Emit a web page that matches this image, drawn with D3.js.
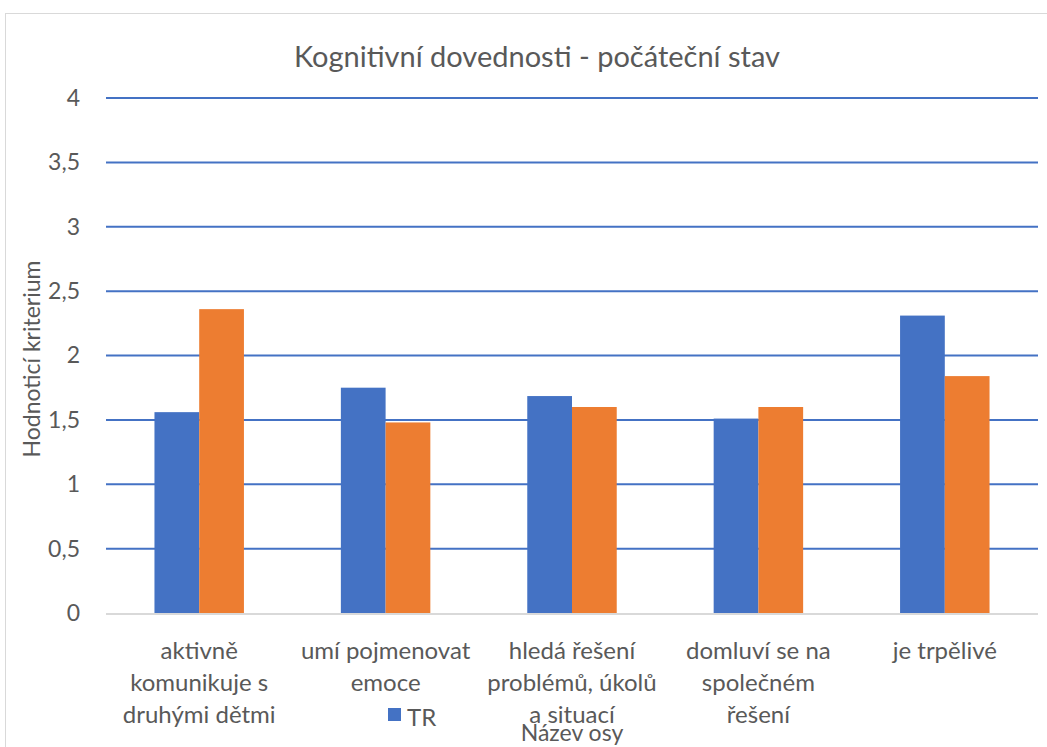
<!DOCTYPE html>
<html>
<head>
<meta charset="utf-8">
<script src="https://cdn.jsdelivr.net/npm/d3@7"></script>
<style>
  body { margin: 0; background: #fff; overflow: hidden; }
  svg { font-family: Lato, "Open Sans", sans-serif; display: block; }
</style>
</head>
<body>
<div id="chart"></div>
<script>
var categories = [
    ["aktivně", "komunikuje s", "druhými dětmi"],
    ["umí pojmenovat", "emoce"],
    ["hledá řešení", "problémů, úkolů", "a situací"],
    ["domluví se na", "společném", "řešení"],
    ["je trpělivé"]
];
var seriesNames = ["TR", "ER"];
var tr = [1.56, 1.75, 1.685, 1.51, 2.31];
var er = [2.36, 1.48, 1.60, 1.60, 1.84];
var yTicks = [0, 0.5, 1, 1.5, 2, 2.5, 3, 3.5, 4];
var colors = ["#4472C4", "#ED7D31"];

var w = 1047, h = 747;
var padLeft = 106, padRight = 1038, padTop = 98, padBottom = 613;

var svg = d3.select("#chart").append("svg")
    .attr("width", w)
    .attr("height", h);

// chart frame
svg.append("rect")
    .attr("x", 5.5).attr("y", 13.5)
    .attr("width", w + 10).attr("height", h + 10)
    .attr("fill", "none")
    .attr("stroke", "#d9d9d9");

var x = d3.scaleBand().domain(d3.range(categories.length)).range([padLeft, padRight]).paddingInner(0.52).paddingOuter(0.26);
var xs = d3.scaleBand().domain([0, 1]).range([0, x.bandwidth()]);
var y = d3.scaleLinear().domain([0, 4]).range([padBottom, padTop]);

// gridlines
svg.append("g").selectAll("line")
    .data(yTicks.filter(function (d) { return d > 0; }))
    .enter().append("line")
    .attr("x1", padLeft).attr("x2", padRight)
    .attr("y1", function (d) { return y(d); })
    .attr("y2", function (d) { return y(d); })
    .attr("stroke", "#4472C4")
    .attr("stroke-width", 2);

// y axis labels
var yAxis = d3.axisLeft(y).tickValues(yTicks).tickSize(0).tickPadding(0)
    .tickFormat(function (d) { return String(d).replace(".", ","); });
var gy = svg.append("g").attr("transform", "translate(80,0)").call(yAxis);
gy.select(".domain").remove();
gy.selectAll("text").attr("font-size", 23).attr("fill", "#595959").attr("font-family", "Lato, sans-serif");

// bars
var series = [tr, er];
series.forEach(function (vals, si) {
    svg.append("g").selectAll("rect")
        .data(vals)
        .enter().append("rect")
        .attr("x", function (d, i) { return x(i) + xs(si); })
        .attr("y", function (d) { return y(d); })
        .attr("width", xs.bandwidth())
        .attr("height", function (d) { return y(0) - y(d); })
        .attr("fill", colors[si]);
});

// baseline
svg.append("line")
    .attr("x1", padLeft).attr("x2", padRight)
    .attr("y1", padBottom + 1).attr("y2", padBottom + 1)
    .attr("stroke", "#d9d9d9").attr("stroke-width", 2);

// category labels
var catG = svg.append("g");
categories.forEach(function (lines, i) {
    var t = catG.append("text")
        .attr("x", x(i) + x.bandwidth() / 2)
        .attr("y", 659)
        .attr("text-anchor", "middle")
        .attr("font-size", 24)
        .attr("fill", "#595959");
    lines.forEach(function (l, j) {
        t.append("tspan")
            .attr("x", x(i) + x.bandwidth() / 2)
            .attr("dy", j === 0 ? 0 : 32)
            .text(l);
    });
});

// title
svg.append("text")
    .attr("x", 537).attr("y", 67)
    .attr("text-anchor", "middle")
    .attr("font-size", 29)
    .attr("fill", "#595959")
    .text("Kognitivní dovednosti - počáteční stav");

// y axis title
svg.append("text")
    .attr("transform", "translate(40,359) rotate(-90)")
    .attr("text-anchor", "middle")
    .attr("font-size", 23)
    .attr("fill", "#595959")
    .text("Hodnoticí kriterium");

// x axis title
svg.append("text")
    .attr("x", 572).attr("y", 741)
    .attr("text-anchor", "middle")
    .attr("font-size", 23)
    .attr("fill", "#595959")
    .text("Název osy");

// legend (only first entry visible)
svg.append("rect")
    .attr("x", 388).attr("y", 708)
    .attr("width", 13).attr("height", 13)
    .attr("fill", colors[0]);
svg.append("text")
    .attr("x", 407).attr("y", 726)
    .attr("font-size", 24)
    .attr("fill", "#595959")
    .text(seriesNames[0]);
</script>
</body>
</html>
